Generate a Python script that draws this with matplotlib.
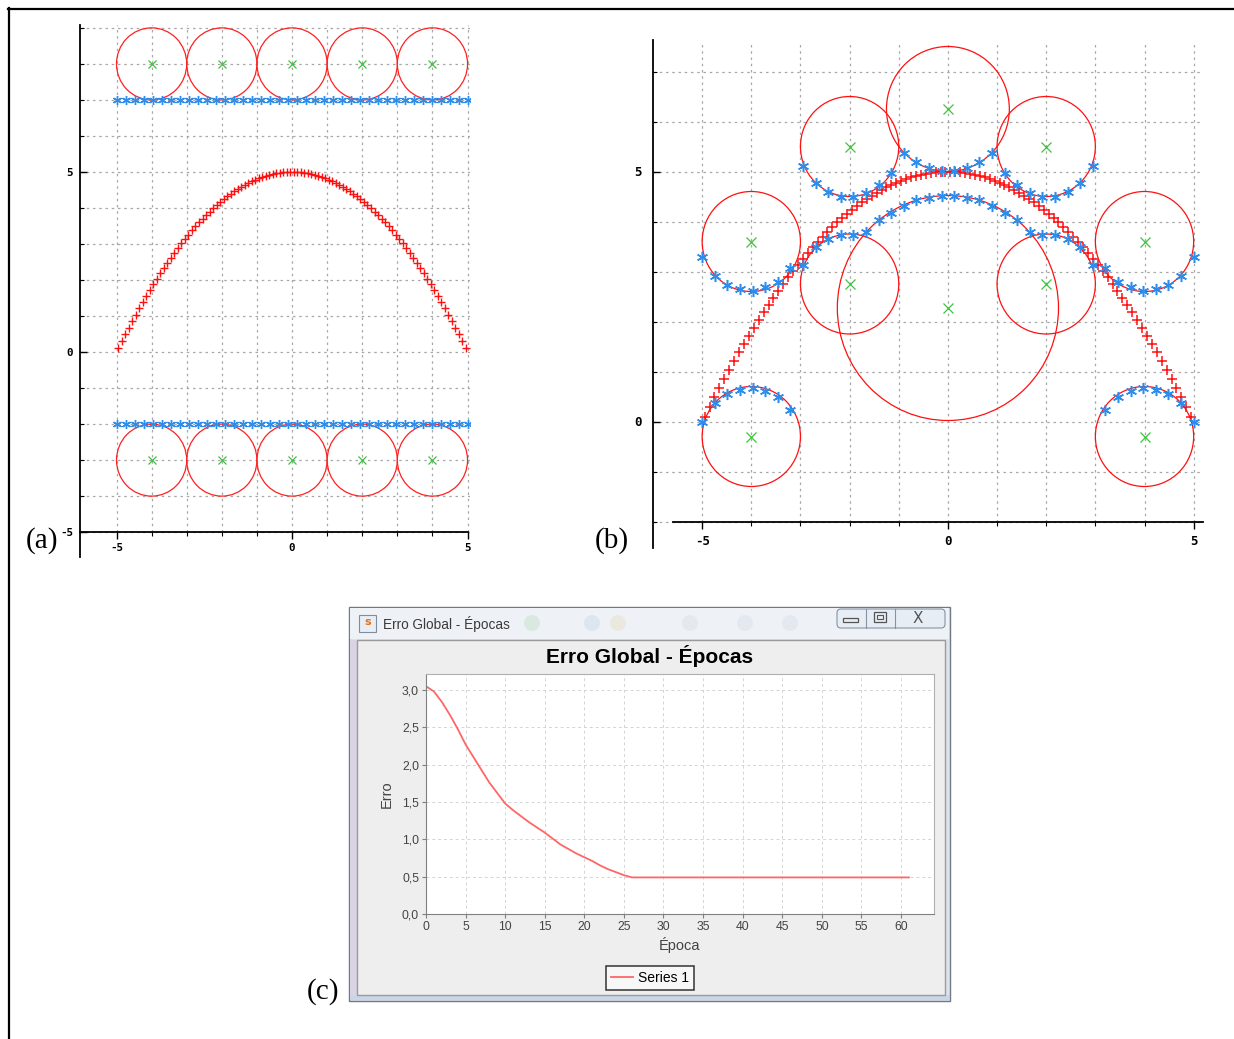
import numpy as np
import matplotlib.pyplot as plt
from matplotlib.patches import Circle, Rectangle, FancyBboxPatch
from matplotlib.ticker import FixedLocator, FuncFormatter

plt.rcParams['axes.unicode_minus'] = False

# target parabola, sampled on 100 inputs (left half, mirrored for the right half)
par_x = np.linspace(-4.95, 4.95, 100)
par_half = [0.10, 0.30, 0.49, 0.68, 0.86, 1.04, 1.22, 1.39, 1.56, 1.72,
            1.88, 2.04, 2.19, 2.34, 2.48, 2.62, 2.76, 2.89, 3.02, 3.14,
            3.26, 3.38, 3.49, 3.60, 3.70, 3.80, 3.90, 3.99, 4.08, 4.16,
            4.24, 4.32, 4.39, 4.46, 4.52, 4.58, 4.64, 4.69, 4.74, 4.78,
            4.82, 4.86, 4.89, 4.92, 4.94, 4.96, 4.98, 4.99, 5.00, 5.00]
par_y = par_half + par_half[::-1]

# network output inputs (40 samples)
out_x = np.linspace(-5, 5, 40)

# (a) untrained: outputs flat, centres on two rows
a_levels = [7, -2]
a_cx = [-4, -2, 0, 2, 4]
a_rows = [8, -3]
a_r = 1.0

# (b) trained: centres, radii and the two output branches
b_cx = [-4, -4, -2, -2, 0, 0, 2, 2, 4, 4]
b_cy = [3.6, -0.3, 5.5, 2.75, 6.25, 2.27, 5.5, 2.75, 3.6, -0.3]
b_r = [1, 1, 1, 1, 1.25, 2.25, 1, 1, 1, 1]
b_low_half = [0.00, 0.37, 0.55, 0.63, 0.67, 0.62, 0.50, 0.23, 3.13, 3.50,
              3.65, 3.73, 3.73, 3.80, 4.03, 4.18, 4.31, 4.43, 4.48, 4.51]
b_high_half = [3.30, 2.91, 2.73, 2.65, 2.62, 2.70, 2.80, 3.07, 5.11, 4.77,
               4.60, 4.50, 4.50, 4.57, 4.73, 4.98, 5.38, 5.19, 5.07, 5.02]
b_low = b_low_half + b_low_half[::-1]
b_high = b_high_half + b_high_half[::-1]

# (c) global error per epoch
erro = [3.05, 2.98, 2.84, 2.67, 2.48, 2.27, 2.10, 1.93, 1.76, 1.62,
        1.48, 1.39, 1.31, 1.23, 1.16, 1.09, 1.01, 0.93, 0.87, 0.81,
        0.76, 0.71, 0.65, 0.60, 0.56, 0.52, 0.49] + [0.49] * 35
epocas = np.arange(len(erro))

W, H = 1234, 1039
fig = plt.figure(figsize=(W / 100, H / 100), dpi=100)
fig.patch.set_facecolor('white')

def frac(x0, y0, x1, y1):
    return [x0 / W, 1 - y1 / H, (x1 - x0) / W, (y1 - y0) / H]

# ---- decorations (page frame, window chrome) in pixel coordinates
deco = fig.add_axes([0, 0, 1, 1])
deco.set_xlim(0, W)
deco.set_ylim(H, 0)
deco.axis('off')
deco.set_zorder(0)
deco.plot([8, W], [8.5, 8.5], color='black', lw=1.6)
deco.plot([8.5, 8.5], [8, H], color='black', lw=1.6)

deco.add_patch(Rectangle((349, 607), 601, 394, facecolor='#DCE3EC', edgecolor='#6F7A86', lw=1))
deco.add_patch(Rectangle((350, 608), 599, 31, facecolor='#EEF2F7', edgecolor='none'))
deco.add_patch(Rectangle((350, 640), 7, 360, facecolor='#D9D3E3', edgecolor='none'))
deco.add_patch(Rectangle((350, 995), 599, 5, facecolor='#C9D5E8', edgecolor='none'))
deco.add_patch(Rectangle((357, 640), 588, 355, facecolor='#EEEEEE', edgecolor='#9A9A9A', lw=1))
# blurred toolbar icons behind the title bar
for bx, col in [(532, '#8FC98F'), (592, '#9DB9E0'), (618, '#E2CC8E'), (690, '#C3CCD8'),
                (745, '#C3CCD8'), (790, '#C3CCD8')]:
    deco.add_patch(Circle((bx, 623), 8, facecolor=col, edgecolor='none', alpha=0.22))
deco.add_patch(Rectangle((359, 615), 17, 17, facecolor='#E9EEF5', edgecolor='#7D8C9E', lw=0.8))
deco.text(367.5, 622, 's', color='#E07020', fontsize=8, ha='center', va='center', fontweight='bold')
deco.text(383, 624, 'Erro Global - Épocas', color='#3A3A3A', fontsize=9.8,
          family='Liberation Sans', ha='left', va='center')
deco.add_patch(FancyBboxPatch((837, 609), 108, 19, boxstyle='round,pad=0,rounding_size=4',
                              facecolor='#E7EDF4', edgecolor='#8793A3', lw=0.8))
deco.plot([866, 866], [609, 628], color='#8793A3', lw=0.8)
deco.plot([895, 895], [609, 628], color='#8793A3', lw=0.8)
deco.add_patch(Rectangle((843, 618), 15, 4, facecolor='none', edgecolor='#555555', lw=0.9))
deco.add_patch(Rectangle((874, 612), 12, 10, facecolor='none', edgecolor='#555555', lw=0.9))
deco.add_patch(Rectangle((877, 615), 6, 4, facecolor='none', edgecolor='#555555', lw=0.8))
deco.text(918, 618.5, 'X', color='#555555', fontsize=11, ha='center', va='center')

grid_kw = dict(color='#A8A8A8', lw=0.9, linestyle=(0, (2, 3)), zorder=0)


def rbf_axes(rect, xlim, ylim, xaxis_y, grid_top, grid_right, yrange, lab_size, xpad, ypad):
    ax = fig.add_axes(rect)
    ax.set_zorder(1)
    ax.set_facecolor('none')
    ax.set_xlim(*xlim)
    ax.set_ylim(*ylim)
    for s in ['top', 'right']:
        ax.spines[s].set_visible(False)
    ax.spines['left'].set_linewidth(1.3)
    ax.spines['bottom'].set_linewidth(1.3)
    ax.spines['bottom'].set_position(('data', xaxis_y))
    ax.vlines(np.arange(-5, 6), xaxis_y, grid_top, **grid_kw)
    ax.hlines(np.arange(yrange[0], yrange[1] + 1), xlim[0], grid_right, **grid_kw)
    ax.xaxis.set_major_locator(FixedLocator([-5, 0, 5]))
    ax.xaxis.set_minor_locator(FixedLocator(np.arange(-5, 6)))
    ax.yaxis.set_major_locator(FixedLocator([t for t in [-5, 0, 5] if yrange[0] <= t <= yrange[1]]))
    ax.yaxis.set_minor_locator(FixedLocator(np.arange(yrange[0], yrange[1] + 1)))
    ax.tick_params(axis='x', which='major', direction='out', length=5, width=1, pad=xpad)
    ax.tick_params(axis='x', which='minor', direction='out', length=3, width=0.8)
    ax.tick_params(axis='y', which='major', direction='in', length=5, width=1, pad=ypad)
    ax.tick_params(axis='y', which='minor', direction='in', length=3, width=0.8)
    for lab in ax.get_xticklabels() + ax.get_yticklabels():
        lab.set_fontsize(lab_size)
        lab.set_fontfamily('DejaVu Sans Mono')
        lab.set_fontweight('bold')
    return ax


# ---- (a) before training
ax_a = rbf_axes(frac(80, 25, 470, 557), (-6.04, 5.07), (-5.69, 9.08), -5, 9.08, 5.07,
                (-5, 9), 7.8, 2.5, 5)
ax_a.spines['bottom'].set_bounds(-6.04, 5.0)
for row in a_rows:
    for cx in a_cx:
        ax_a.add_patch(Circle((cx, row), a_r, fill=False, ec='#FF2020', lw=0.9, zorder=2))
    ax_a.plot(a_cx, [row] * len(a_cx), 'x', color='#3CC43C', ms=5.5, mew=0.9, zorder=3)
for lvl in a_levels:
    ax_a.plot(out_x, [lvl] * len(out_x), linestyle='none', marker=(6, 2, 0),
              color='#2E8DEB', ms=6.5, mew=1.0, zorder=3)
ax_a.plot(par_x, par_y, '+', color='#FF1010', ms=6, mew=1.0, zorder=4)

# ---- (b) after training
ax_b = rbf_axes(frac(653, 40, 1203, 548), (-6.0, 5.19), (-2.53, 7.63), -2, 7.55, 5.12,
                (-2, 7), 9, 5, 8)
ax_b.spines['bottom'].set_bounds(-5.6, 5.19)
for cx, cy, r in zip(b_cx, b_cy, b_r):
    ax_b.add_patch(Circle((cx, cy), r, fill=False, ec='#FF1010', lw=0.9, zorder=2))
ax_b.plot(b_cx, b_cy, 'x', color='#3CC43C', ms=6.5, mew=0.9, zorder=3)
ax_b.plot(par_x, par_y, '+', color='#FF1010', ms=7.5, mew=1.1, zorder=4)
for ys in [b_low, b_high]:
    ax_b.plot(out_x, ys, linestyle='none', marker=(6, 2, 0),
              color='#2E8DEB', ms=8, mew=1.1, zorder=5)

# ---- (c) error per epoch
ax_c = fig.add_axes(frac(426, 674, 934, 914))
ax_c.set_zorder(1)
ax_c.set_facecolor('white')
ax_c.plot(epocas, erro, color='#FF6666', lw=1.3, label='Series 1')
ax_c.set_xlim(0, 64.17)
ax_c.set_ylim(0, 3.214)
ax_c.set_xticks(np.arange(0, 61, 5))
ax_c.set_yticks(np.arange(0, 3.01, 0.5))
ax_c.yaxis.set_major_formatter(FuncFormatter(lambda v, p: f'{v:.1f}'.replace('.', ',')))
ax_c.grid(True, color='#D4D4D4', lw=0.7, linestyle=(0, (3, 3)))
for s in ax_c.spines.values():
    s.set_color('#B0B0B0')
    s.set_linewidth(0.8)
ax_c.spines['left'].set_color('#808080')
ax_c.spines['bottom'].set_color('#808080')
ax_c.tick_params(direction='out', length=3, width=0.8, color='#808080',
                 labelsize=8.8, labelcolor='#444444', pad=2)
for lab in ax_c.get_xticklabels() + ax_c.get_yticklabels():
    lab.set_fontfamily('Liberation Sans')
ax_c.set_xlabel('Época', fontsize=10.5, family='Liberation Sans', color='#444444', labelpad=3)
ax_c.set_ylabel('Erro', fontsize=10.5, family='Liberation Sans', color='#444444', labelpad=6)
fig.text(650 / W, 1 - 656 / H, 'Erro Global - Épocas', ha='center', va='center',
         fontsize=15, fontweight='bold', family='Liberation Sans', color='black')
leg = ax_c.legend(loc='center', bbox_to_anchor=(650 / W, 1 - 978 / H),
                  bbox_transform=fig.transFigure, fancybox=False, framealpha=1,
                  facecolor='#F7F7F7', edgecolor='#333333',
                  handlelength=1.6, handletextpad=0.4, borderpad=0.35,
                  prop={'family': 'Liberation Sans', 'size': 10})
leg.get_frame().set_linewidth(1.1)

# panel letters
for txt, x, y in [('(a)', 42, 541), ('(b)', 612, 541), ('(c)', 323, 992)]:
    fig.text(x / W, 1 - y / H, txt, ha='center', va='center', fontsize=21,
             family='Liberation Serif')

fig.savefig('out.png', dpi=100)
